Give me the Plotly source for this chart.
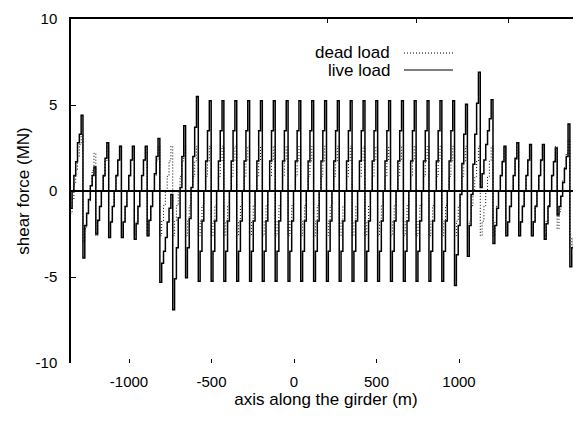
import plotly.graph_objects as go

# support (pier) positions along the girder, m
supports = [-1356, -1279, -1201, -1123, -1046, -968, -890, -813, -735, -657,
            -580, -502, -425, -347, -269, -192, -114, -36, 41, 119,
            197, 274, 352, 430, 507, 585, 663, 740, 818, 896,
            973, 1051, 1129, 1206, 1284, 1362, 1439, 1517, 1595, 1672, 1750]

# shear levels of the 7 panels in each span, MN (live load)
live_std = [-5.25, -3.5, -1.75, 0.0, 1.75, 3.5, 5.25]
live_levels = [
    [-1.0, 0.0, 0.9, 1.7, 2.8, 3.3, 4.4],
    [-3.9, -2.0, -1.3, -0.5, 0.3, 0.9, 1.4],
    [-2.5, -1.7, -0.9, 0.0, 0.9, 1.9, 2.8],
    [-2.7, -1.8, -0.9, 0.0, 0.9, 1.8, 2.6],
    [-2.7, -1.8, -0.9, 0.0, 0.9, 1.8, 2.6],
    [-2.8, -1.9, -0.9, 0.0, 0.9, 1.8, 2.6],
    [-2.6, -1.7, -0.9, 0.0, 1.0, 2.0, 3.05],
    [-5.3, -4.2, -3.5, -2.7, -1.8, -1.0, -0.2],
    [-6.9, -5.1, -3.3, -1.55, 0.2, 2.0, 3.8],
    [-5.05, -3.3, -1.6, 0.2, 2.0, 3.7, 5.5],
] + [live_std] * 20 + [
    [-5.5, -3.7, -2.0, -0.2, 1.6, 3.3, 5.05],
    [-3.8, -2.0, -0.2, 1.55, 3.3, 5.1, 6.9],
    [0.2, 1.0, 1.8, 2.7, 3.5, 4.2, 5.3],
    [-3.05, -2.0, -1.0, 0.0, 0.9, 1.7, 2.6],
    [-2.6, -1.8, -0.9, 0.0, 0.9, 1.9, 2.8],
    [-2.6, -1.8, -0.9, 0.0, 0.9, 1.8, 2.7],
    [-2.6, -1.8, -0.9, 0.0, 0.9, 1.8, 2.7],
    [-2.8, -1.9, -0.9, 0.0, 0.9, 1.7, 2.5],
    [-1.4, -0.9, -0.3, 0.5, 1.3, 2.0, 3.9],
    [-4.4, -3.3, -2.8, -1.7, -0.9, 0.0, 1.0],
]

# dead load levels
dead_std = [-2.6, -1.75, -0.85, 0.0, 0.85, 1.75, 2.6]
dead_levels = [
    [-1.3, -0.5, 0.4, 1.2, 2.0, 2.7, 3.3],
    [-3.0, -2.2, -1.4, -0.6, 0.3, 1.2, 2.2],
] + [dead_std] * 36 + [
    [-2.2, -1.2, -0.3, 0.6, 1.4, 2.2, 3.0],
    [-3.3, -2.7, -2.0, -1.2, -0.4, 0.5, 1.3],
]

x_ticks = [-1000, -500, 0, 500, 1000]
y_ticks = [-10, -5, 0, 5, 10]
top_ticks = [200, 745, 1303]


def staircase(levels):
    xs, ys = [], []
    for k, lv in enumerate(levels):
        a, b = supports[k], supports[k + 1]
        n = len(lv)
        for p, v in enumerate(lv):
            xs.append(a + p * (b - a) / n)
            ys.append(v)
    xs.append(supports[len(levels)])
    ys.append(levels[-1][-1])
    return xs, ys


FONT = "Liberation Sans, Arial, Helvetica, sans-serif"
DOTS = "1px,2px"
fig = go.Figure()

dx, dy = staircase(dead_levels)
fig.add_trace(go.Scatter(x=dx, y=dy, mode="lines", name="dead load",
                         line=dict(color="black", width=1, dash=DOTS, shape="hv"),
                         showlegend=False))
lx, ly = staircase(live_levels)
fig.add_trace(go.Scatter(x=lx, y=ly, mode="lines", name="live load",
                         line=dict(color="black", width=1.5, shape="hv"),
                         showlegend=False))
fig.add_trace(go.Scatter(x=[None], y=[None], xaxis="x2", showlegend=False,
                         hoverinfo="skip"))

# the page body has an 8px margin, so the figure is drawn 8px in from the corner
XR = [-1351.5, 1739.4]
fig.update_layout(
    width=573, height=413,
    margin=dict(l=63, r=0, t=11, b=58, autoexpand=False),
    paper_bgcolor="white", plot_bgcolor="white",
    font=dict(family=FONT, size=15, color="black"),
    xaxis=dict(range=XR, tickvals=x_ticks, ticktext=[str(v) for v in x_ticks],
               ticks="inside", ticklen=4, tickcolor="black", showline=False,
               showgrid=False, zeroline=False, ticklabelstandoff=8,
               automargin=False,
               title=dict(text="axis along the girder (m)", font=dict(size=17),
                          standoff=4)),
    xaxis2=dict(range=XR, overlaying="x", side="top", tickvals=top_ticks,
                showticklabels=False, ticks="inside", ticklen=4,
                tickcolor="black", showline=True, linecolor="black",
                linewidth=1.5, showgrid=False, zeroline=False,
                automargin=False),
    yaxis=dict(range=[-10, 10], tickvals=y_ticks,
               ticktext=[str(v) for v in y_ticks], ticks="inside", ticklen=5,
               tickcolor="black", showline=True, linecolor="black",
               linewidth=1.5, mirror="ticks", showgrid=False, zeroline=True,
               zerolinecolor="black", zerolinewidth=1.5, ticklabelstandoff=9,
               automargin=False,
               title=dict(text="shear force (MN)", font=dict(size=17),
                          standoff=2)),
)

# gnuplot-style key: text on the left, line sample on the right
def px(x):
    return (x - 71) / 510.0


def py(y):
    return (363 - y) / 344.0


for label, yy, dash in [("dead load", 53, DOTS), ("live load", 70, "solid")]:
    fig.add_annotation(x=px(392), y=py(yy), xref="paper", yref="paper",
                       text=label, showarrow=False, xanchor="right",
                       yanchor="middle", font=dict(size=17, family=FONT))
    fig.add_shape(type="line", xref="paper", yref="paper",
                  x0=px(404), x1=px(453), y0=py(yy), y1=py(yy),
                  line=dict(color="black", width=1.2, dash=dash))

fig.write_html("out.html")
